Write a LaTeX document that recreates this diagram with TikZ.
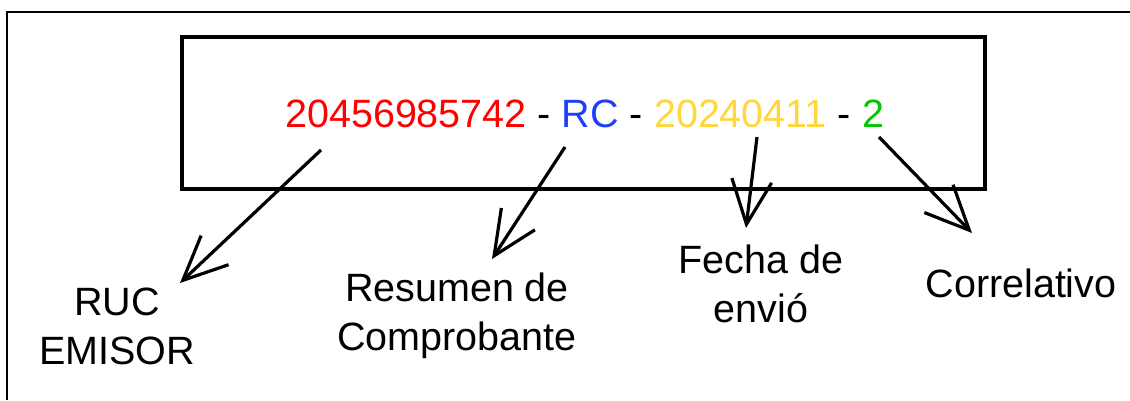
\documentclass[tikz,border=0pt]{standalone}
\usepackage{fontspec}
\setmainfont{Liberation Sans}
\usetikzlibrary{arrows.meta}

\definecolor{rucred}{RGB}{255,0,0}
\definecolor{tipoblue}{RGB}{30,62,255}
\definecolor{fechayellow}{RGB}{255,215,60}
\definecolor{corrgreen}{RGB}{0,200,0}

\begin{document}
\begin{tikzpicture}[x=1pt, y=-1pt,
    pointer/.style={line width=3.2pt, -{Straight Barb[length=44pt, width=40pt, line width=3.2pt]}},
    parte/.style={font=\fontsize{39.5}{49}\selectfont, align=center, inner sep=0pt, anchor=base}]
    \useasboundingbox (0,0) rectangle (1130,400);
    % Frames
    \draw[line width=2.2pt] (7,400) -- (7,12) -- (1130,12);
    \draw[line width=3.5pt] (182,37) rectangle (985,189);
    \node[inner sep=0pt, anchor=base west, font=\fontsize{39.5}{48}\selectfont] (codigo) at (285,127)
        {\textcolor{rucred}{20456985742} - \textcolor{tipoblue}{RC} - \textcolor{fechayellow}{20240411} - \textcolor{corrgreen}{2}};

    % Parts (base = last line)
    \node[parte] (ruc) at (117,364) {RUC\\EMISOR};
    \node[parte] (tipo) at (457,350) {Resumen de\\Comprobante};
    \node[parte] (fecha) at (761,322) {Fecha de\\envió};
    \node[parte] (corr) at (1021,297) {Correlativo};

    % Arrows
    \coordinate (s1) at (321,150); \coordinate (t1) at (180,283);
    \coordinate (s2) at (565,147); \coordinate (t2) at (492,259);
    \coordinate (s3) at (757,137); \coordinate (t3) at (746,228);
    \coordinate (s4) at (879,137); \coordinate (t4) at (972,233);
    \draw[pointer] (s1) -- (t1);
    \draw[pointer] (s2) -- (t2);
    \draw[pointer] (s3) -- (t3);
    \draw[pointer] (s4) -- (t4);
\end{tikzpicture}
\end{document}
